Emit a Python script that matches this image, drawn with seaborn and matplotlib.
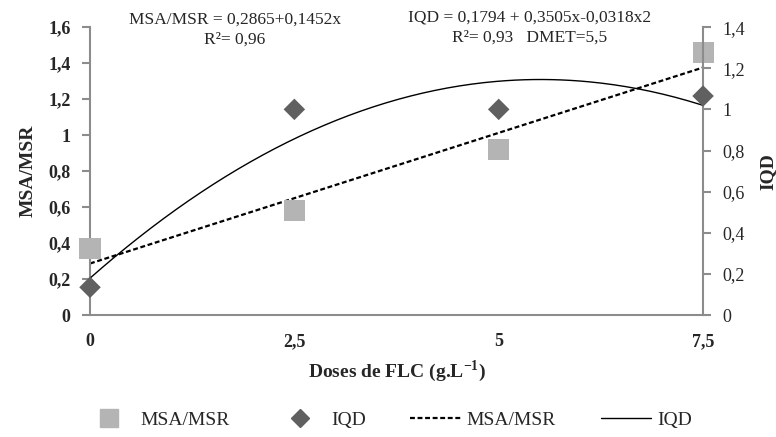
import numpy as np
import pandas as pd
import matplotlib
matplotlib.use("Agg")
import matplotlib.pyplot as plt
import seaborn as sns
from matplotlib.lines import Line2D

sns.set_style("white")
plt.rcParams['font.family'] = ['Liberation Serif', 'DejaVu Serif']
plt.rcParams['mathtext.fontset'] = 'custom'
plt.rcParams['mathtext.rm'] = 'Liberation Serif'
plt.rcParams['mathtext.bf'] = 'Liberation Serif:bold'

doses = [0, 2.5, 5, 7.5]
msa_msr = [0.37, 0.58, 0.92, 1.46]
iqd = [0.135, 1.0, 1.0, 1.065]
msa_coef = [0.2865, 0.1452]
iqd_coef = [0.1794, 0.3505, -0.0318]
left_ticks = [0, 0.2, 0.4, 0.6, 0.8, 1.0, 1.2, 1.4, 1.6]
left_labels = ["0", "0,2", "0,4", "0,6", "0,8", "1", "1,2", "1,4", "1,6"]
right_ticks = [0, 0.2, 0.4, 0.6, 0.8, 1.0, 1.2, 1.4]
right_labels = ["0", "0,2", "0,4", "0,6", "0,8", "1", "1,2", "1,4"]
x_ticks = [0, 2.5, 5, 7.5]
x_labels = ["0", "2,5", "5", "7,5"]

xs = np.linspace(0, 7.5, 200)
fit = pd.DataFrame({
    "x": xs,
    "msa": msa_coef[0] + msa_coef[1] * xs,
    "iqd": iqd_coef[0] + iqd_coef[1] * xs + iqd_coef[2] * xs ** 2,
})
pts = pd.DataFrame({"x": doses, "msa": msa_msr, "iqd": iqd})

fig = plt.figure(figsize=(7.76, 4.37), dpi=100)
ax = fig.add_axes([0.116, 0.279, 0.790, 0.659])
ax2 = ax.twinx()

gray_axis = "#8c8c8c"
sq_color = "#b4b4b4"
dm_color = "#606060"

sns.lineplot(data=fit, x="x", y="msa", ax=ax, color="black", linestyle=(0, (2.2, 1.2)), linewidth=1.6)
sns.lineplot(data=fit, x="x", y="iqd", ax=ax2, color="black", linewidth=1.0)
sns.scatterplot(data=pts, x="x", y="msa", ax=ax, marker="s", s=230, color=sq_color, edgecolor="none", clip_on=False, zorder=5)
sns.scatterplot(data=pts, x="x", y="iqd", ax=ax2, marker="D", s=120, color=dm_color, edgecolor="none", clip_on=False, zorder=5)

ax.set_xlim(0, 7.5)
ax.set_ylim(0, 1.6)
ax2.set_ylim(0, 1.4)
ax.set_xticks(x_ticks)
ax.set_xticklabels(x_labels, fontsize=13, fontweight="bold")
ax.set_yticks(left_ticks)
ax.set_yticklabels(left_labels, fontsize=13, fontweight="bold")
ax2.set_yticks(right_ticks)
ax2.set_yticklabels(right_labels, fontsize=13)

for a in (ax, ax2):
    a.spines["top"].set_visible(False)
    for s in ("left", "right", "bottom"):
        a.spines[s].set_color(gray_axis)
        a.spines[s].set_linewidth(1.5)
    a.tick_params(axis="both", which="both", direction="out", length=6, width=1.5, color=gray_axis, pad=8)
ax.spines["right"].set_visible(False)
ax2.spines["left"].set_visible(False)
ax2.spines["bottom"].set_visible(False)
ax.tick_params(axis="x", pad=7)

ax.set_xlabel("Doses de FLC (g.L$^{\\mathbf{-1}}$)", fontsize=14, fontweight="bold", labelpad=6)
ax.set_ylabel("MSA/MSR", fontsize=14, fontweight="bold", labelpad=8)
ax2.set_ylabel("IQD", fontsize=14, fontweight="bold", labelpad=10)

fig.text(235 / 776, 1 - 20 / 437, "MSA/MSR = 0,2865+0,1452x", ha="center", va="center", fontsize=12.5)
fig.text(235 / 776, 1 - 40 / 437, "R²= 0,96", ha="center", va="center", fontsize=12.5)
fig.text(530 / 776, 1 - 18 / 437, "IQD = 0,1794 + 0,3505x-0,0318x2", ha="center", va="center", fontsize=12.5)
fig.text(530 / 776, 1 - 38 / 437, "R²= 0,93   DMET=5,5", ha="center", va="center", fontsize=12.5)

handles = [
    Line2D([], [], marker="s", linestyle="none", color=sq_color, markersize=13),
    Line2D([], [], marker="D", linestyle="none", color=dm_color, markersize=9),
    Line2D([], [], color="black", linestyle=(0, (2.2, 1.2)), linewidth=1.6),
    Line2D([], [], color="black", linewidth=1.0),
]
labels = ["MSA/MSR", "IQD", "MSA/MSR", "IQD"]
fig.legend(handles, labels, loc="center", bbox_to_anchor=(0.5, 1 - 420 / 437), ncol=4, frameon=False,
           fontsize=14, handlelength=2.6, columnspacing=2.3, handletextpad=0.3)

fig.savefig("out.png", dpi=100)
